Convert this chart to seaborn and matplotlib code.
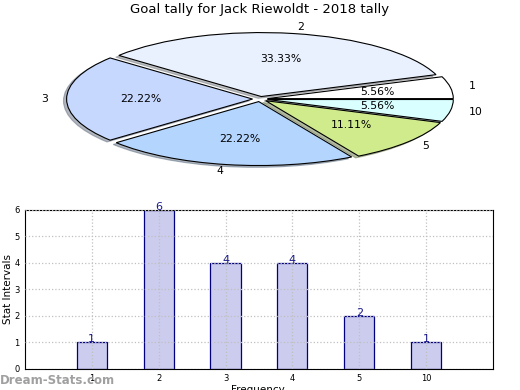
import matplotlib
matplotlib.use("Agg")
import matplotlib.pyplot as plt
import seaborn as sns
import pandas as pd

# Chart data
goal_labels = ['1', '2', '3', '4', '5', '10']
goal_counts = [1, 6, 4, 4, 2, 1]
slice_colors = ['#ffffff', '#eaf1fe', '#c6d8fe', '#b4d5fe', '#d0eb8c', '#d9ffff']

title_text = 'Goal tally for Jack Riewoldt - 2018 tally'

sns.set_style("white")
plt.rcParams['font.family'] = ['DejaVu Sans']
plt.rcParams['text.color'] = 'black'
plt.rcParams['axes.labelcolor'] = 'black'
plt.rcParams['xtick.color'] = 'black'
plt.rcParams['ytick.color'] = 'black'

fig = plt.figure(figsize=(5.2, 3.9), dpi=100)

# Pie (squashed, aspect not equal)
ax_pie = fig.add_axes([0.053, 0.541, 0.894, 0.41])
wedges, texts, autotexts = ax_pie.pie(
    goal_counts, labels=goal_labels, colors=slice_colors,
    autopct='%.2f%%', startangle=0, explode=[0.04] * len(goal_counts),
    shadow={'ox': -0.012, 'oy': -0.02, 'shade': 0.5},
    wedgeprops={'edgecolor': 'black', 'linewidth': 0.8},
    textprops={'fontsize': 7.8, 'color': 'black'}, pctdistance=0.6, labeldistance=1.1)
ax_pie.set_aspect('auto')
ax_pie.set_xlim(-1.25, 1.25)
ax_pie.set_ylim(-1.25, 1.25)
ax_pie.axis('off')
fig.text(0.5, 1 - 10 / 390, title_text, ha='center', va='center', fontsize=9.5)

# Bar chart
df = pd.DataFrame({'goals': goal_labels, 'count': goal_counts})
ax_bar = fig.add_axes([0.048, 0.054, 0.9, 0.408])
sns.barplot(data=df, x='goals', y='count', order=goal_labels, ax=ax_bar,
            color='#ccccee', edgecolor='#000080', linewidth=0.9,
            width=0.45, saturation=1)
ax_bar.set_xlim(-1, 6)
ax_bar.set_ylim(0, 6)
ax_bar.set_yticks(range(0, 7))
ax_bar.tick_params(axis='both', labelsize=6, direction='in', length=3, pad=4)
ax_bar.grid(True, linestyle=':', color='#c0c0c0', linewidth=0.9)
ax_bar.set_axisbelow(False)
for sp in ax_bar.spines.values():
    sp.set_color('black')
    sp.set_linewidth(0.8)
ax_bar.set_xlabel('')
ax_bar.set_ylabel('Stat Intervals', fontsize=7.5, labelpad=1)
for i, v in enumerate(goal_counts):
    ax_bar.text(i, v + 0.12, str(v), ha='center', va='center',
                fontsize=8, color='#1a1a8c')

fig.text(258 / 520, -0.014, 'Frequency', ha='center', va='bottom', fontsize=7.5)
fig.text(0.0, 1 - 381 / 390, 'Dream-Stats.com', ha='left', va='center',
         fontsize=8.5, color='#a0a0a0', fontweight='bold')

fig.savefig('out.png', dpi=100)
